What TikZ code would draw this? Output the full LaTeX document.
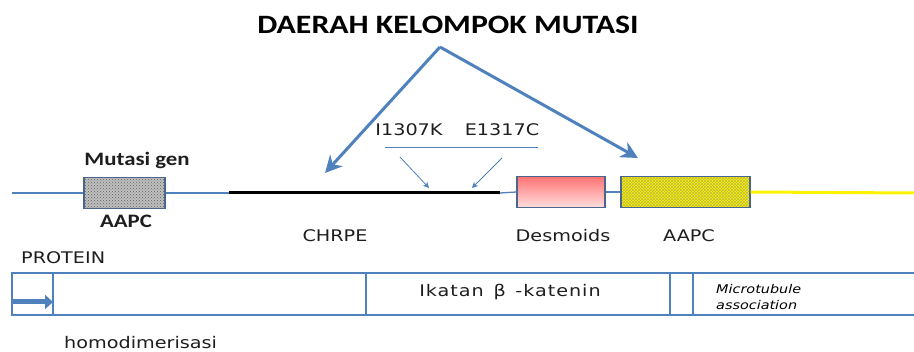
\documentclass[tikz,border=0pt]{standalone}
\usepackage{fontspec}
\setmainfont[FakeStretch=1.2]{DejaVu Sans}
\newfontfamily\calfont[FakeStretch=1.2]{Carlito}
\usepackage{tikz}
\usetikzlibrary{arrows.meta,patterns}
\definecolor{lineblue}{RGB}{79,129,189}
\definecolor{boxedge}{RGB}{75,100,140}
\definecolor{pinktop}{RGB}{255,115,115}
\definecolor{pinkbot}{RGB}{255,222,222}
\definecolor{txtgray}{RGB}{30,30,30}
\tikzset{>={Stealth[length=17pt,width=17pt]},
  geneline/.style={lineblue, line width=1.3pt},
  genebox/.style={draw=boxedge, line width=1.3pt, minimum height=31pt, inner sep=0pt},
  bigarrow/.style={->, lineblue, line width=3pt},
  smallarrow/.style={-{Stealth[length=6pt,width=6pt]}, lineblue, line width=0.8pt},
  lbl/.style={font=\fontsize{16}{18}\selectfont, text=txtgray, inner sep=0pt},
  boldlbl/.style={font=\calfont\bfseries\fontsize{19}{21}\selectfont, text=txtgray, inner sep=0pt},
  protline/.style={lineblue, line width=1.5pt}}

\begin{document}
\begin{tikzpicture}[x=1pt,y=-1pt]
    \useasboundingbox (0,0) rectangle (914,352);

    % Title and the two big arrows
    \node (title) [font=\calfont\bfseries\fontsize{26.5}{28}\selectfont, text=black] at (448,25) {DAERAH KELOMPOK MUTASI};
    \coordinate (apex) at (440,47);
    \coordinate (leftend) at (325,173);
    \coordinate (rightend) at (638,158);
    \draw[bigarrow] (apex) -- (leftend);
    \draw[bigarrow] (apex) -- (rightend);

    % Gene boxes
    \node (mutbox) [genebox, minimum width=81pt, preaction={fill=gray!50}, pattern=crosshatch dots, pattern color=gray!75!black] at (124.5,193) {};
    \node (desbox) [genebox, minimum width=88pt, top color=pinktop, bottom color=pinkbot] at (561,192) {};
    \node (aapcbox) [genebox, minimum width=129pt, preaction={fill=yellow}, pattern=crosshatch, pattern color=gray!55!yellow] at (685.5,192) {};

    % Gene line
    \coordinate (genestart) at (12,193);
    \coordinate (chrpeA) at (229,193);
    \coordinate (chrpeB) at (500,193);
    \coordinate (geneend) at (914,193);
    \draw[geneline] (genestart) -- (mutbox.west);
    \draw[geneline] (mutbox.east) -- (chrpeA);
    \draw[black, line width=3pt] (chrpeA) -- (chrpeB);
    \draw[geneline] (chrpeB) -- (desbox.west);
    \draw[geneline] (desbox.east) -- (aapcbox.west);
    \draw[yellow, line width=3pt] (aapcbox.east) -- (geneend);

    % Labels on the gene
    \node (mutgen) [boldlbl] at (137,160) {Mutasi gen};
    \node (aapcA) [boldlbl] at (126,221) {AAPC};
    \node (chrpe) [lbl] at (335,236) {CHRPE};
    \node (desmo) [lbl] at (563,236) {Desmoids};
    \node (aapcB) [lbl] at (689,236) {AAPC};

    % Point mutations
    \node (mutI) [lbl] at (409,130) {I1307K};
    \node (mutE) [lbl] at (502,130) {E1317C};
    \coordinate (barL) at (385,147);
    \coordinate (barR) at (538,147);
    \draw[lineblue, line width=0.8pt] (barL) -- (barR);
    \coordinate (arIa) at (400,157);
    \coordinate (arIb) at (429,188);
    \coordinate (arEa) at (502,158);
    \coordinate (arEb) at (472,188);
    \draw[smallarrow] (arIa) -- (arIb);
    \draw[smallarrow] (arEa) -- (arEb);

    % Protein bar
    \node (protein) [lbl, anchor=west] at (21,258) {PROTEIN};
    \draw[protline] (914,273) -- (12,273) -- (12,315) -- (914,315);
    \foreach \x in {53,366,670,693}
        \draw[protline] (\x,273) -- (\x,315);
    \coordinate (homoA) at (12,302);
    \coordinate (homoB) at (53,302);
    \draw[lineblue, line width=5pt, -{Triangle[length=8pt,width=14pt]}] (homoA) -- (homoB);
    \node (ikatan) [lbl, font=\addfontfeature{LetterSpace=6}\fontsize{16}{18}\selectfont] at (510,292) {Ikatan \,β\, -katenin};
    \node (micro) [lbl, anchor=west, align=left, font=\itshape\fontsize{12}{16}\selectfont, text=black] at (716,297) {Microtubule\\association};
    \node (homo) [lbl, anchor=west] at (64,343) {homodimerisasi};

\end{tikzpicture}
\end{document}
